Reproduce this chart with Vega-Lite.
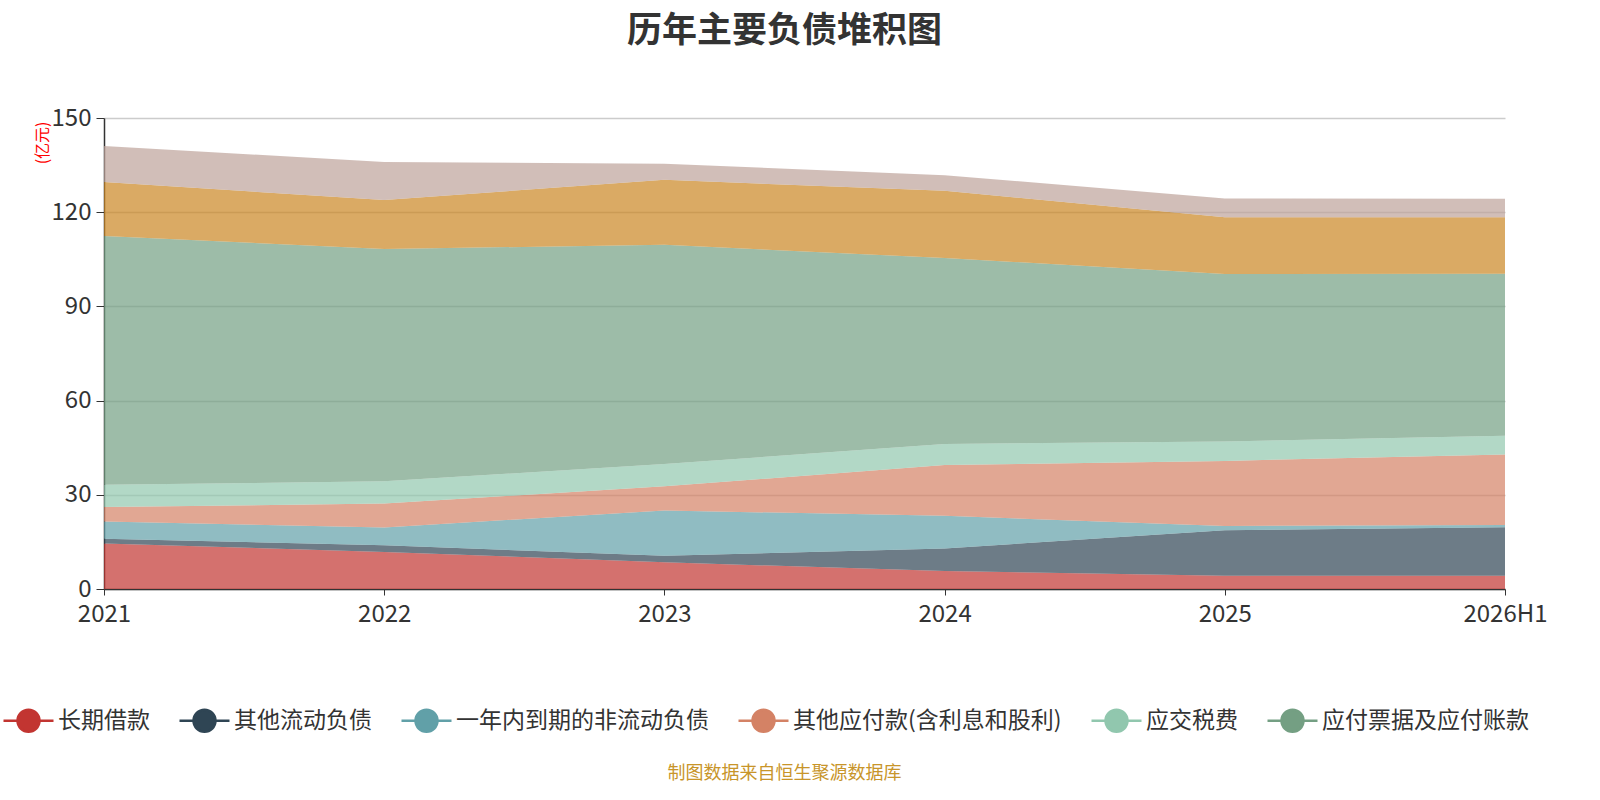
{
  "$schema": "https://vega.github.io/schema/vega-lite/v6.json",
  "width": 1401,
  "height": 471,
  "autosize": "none",
  "padding": {"left": 104, "top": 118, "right": 95, "bottom": 211},
  "background": "white",
  "title": {
    "text": "历年主要负债堆积图",
    "fontSize": 35,
    "fontWeight": "bold",
    "color": "#333333",
    "anchor": "middle",
    "offset": 57,
    "dx": -20
  },
  "data": {
    "values": [
      {"year": "2021", "item": "长期借款", "k": 1, "v": 14.5},
      {"year": "2021", "item": "其他流动负债", "k": 2, "v": 1.5},
      {"year": "2021", "item": "一年内到期的非流动负债", "k": 3, "v": 5.5},
      {"year": "2021", "item": "其他应付款(含利息和股利)", "k": 4, "v": 4.6},
      {"year": "2021", "item": "应交税费", "k": 5, "v": 7.1},
      {"year": "2021", "item": "应付票据及应付账款", "k": 6, "v": 79.2},
      {"year": "2021", "item": "合同负债", "k": 7, "v": 17.2},
      {"year": "2021", "item": "应付职工薪酬", "k": 8, "v": 11.5},
      {"year": "2022", "item": "长期借款", "k": 1, "v": 11.8},
      {"year": "2022", "item": "其他流动负债", "k": 2, "v": 2.1},
      {"year": "2022", "item": "一年内到期的非流动负债", "k": 3, "v": 5.7},
      {"year": "2022", "item": "其他应付款(含利息和股利)", "k": 4, "v": 7.6},
      {"year": "2022", "item": "应交税费", "k": 5, "v": 7.1},
      {"year": "2022", "item": "应付票据及应付账款", "k": 6, "v": 74.0},
      {"year": "2022", "item": "合同负债", "k": 7, "v": 15.6},
      {"year": "2022", "item": "应付职工薪酬", "k": 8, "v": 12.1},
      {"year": "2023", "item": "长期借款", "k": 1, "v": 8.5},
      {"year": "2023", "item": "其他流动负债", "k": 2, "v": 2.1},
      {"year": "2023", "item": "一年内到期的非流动负债", "k": 3, "v": 14.4},
      {"year": "2023", "item": "其他应付款(含利息和股利)", "k": 4, "v": 7.7},
      {"year": "2023", "item": "应交税费", "k": 5, "v": 7.1},
      {"year": "2023", "item": "应付票据及应付账款", "k": 6, "v": 69.8},
      {"year": "2023", "item": "合同负债", "k": 7, "v": 20.7},
      {"year": "2023", "item": "应付职工薪酬", "k": 8, "v": 5.1},
      {"year": "2024", "item": "长期借款", "k": 1, "v": 5.7},
      {"year": "2024", "item": "其他流动负债", "k": 2, "v": 7.2},
      {"year": "2024", "item": "一年内到期的非流动负债", "k": 3, "v": 10.4},
      {"year": "2024", "item": "其他应付款(含利息和股利)", "k": 4, "v": 16.2},
      {"year": "2024", "item": "应交税费", "k": 5, "v": 6.7},
      {"year": "2024", "item": "应付票据及应付账款", "k": 6, "v": 59.2},
      {"year": "2024", "item": "合同负债", "k": 7, "v": 21.4},
      {"year": "2024", "item": "应付职工薪酬", "k": 8, "v": 5.0},
      {"year": "2025", "item": "长期借款", "k": 1, "v": 4.2},
      {"year": "2025", "item": "其他流动负债", "k": 2, "v": 14.5},
      {"year": "2025", "item": "一年内到期的非流动负债", "k": 3, "v": 1.4},
      {"year": "2025", "item": "其他应付款(含利息和股利)", "k": 4, "v": 20.7},
      {"year": "2025", "item": "应交税费", "k": 5, "v": 6.2},
      {"year": "2025", "item": "应付票据及应付账款", "k": 6, "v": 53.3},
      {"year": "2025", "item": "合同负债", "k": 7, "v": 18.1},
      {"year": "2025", "item": "应付职工薪酬", "k": 8, "v": 6.0},
      {"year": "2026H1", "item": "长期借款", "k": 1, "v": 4.2},
      {"year": "2026H1", "item": "其他流动负债", "k": 2, "v": 15.5},
      {"year": "2026H1", "item": "一年内到期的非流动负债", "k": 3, "v": 0.7},
      {"year": "2026H1", "item": "其他应付款(含利息和股利)", "k": 4, "v": 22.4},
      {"year": "2026H1", "item": "应交税费", "k": 5, "v": 6.0},
      {"year": "2026H1", "item": "应付票据及应付账款", "k": 6, "v": 51.6},
      {"year": "2026H1", "item": "合同负债", "k": 7, "v": 18.0},
      {"year": "2026H1", "item": "应付职工薪酬", "k": 8, "v": 5.9}
    ]
  },
  "mark": {"type": "area", "opacity": 0.7, "interpolate": "linear", "tooltip": true},
  "encoding": {
    "x": {
      "field": "year",
      "type": "ordinal",
      "sort": null,
      "scale": {"type": "point", "padding": 0},
      "axis": {
        "title": "制图数据来自恒生聚源数据库",
        "titleColor": "#c8952a",
        "titleFontSize": 18,
        "titleFontWeight": "normal",
        "titleX": 680,
        "titleY": 184,
        "titleAlign": "center",
        "titleBaseline": "middle",
        "labelAngle": 0,
        "labelFontSize": 24,
        "labelColor": "#333333",
        "labelPadding": 7,
        "tickSize": 6,
        "tickColor": "#333333",
        "domainColor": "#333333",
        "domainWidth": 1.5,
        "grid": false
      }
    },
    "y": {
      "field": "v",
      "type": "quantitative",
      "stack": "zero",
      "scale": {"domain": [0, 150], "nice": false},
      "axis": {
        "values": [0, 30, 60, 90, 120, 150],
        "title": "(亿元)",
        "titleColor": "#ff0000",
        "titleFontSize": 16,
        "titleFontWeight": "normal",
        "titleAngle": 270,
        "titleX": -62,
        "titleY": 3,
        "titleAlign": "right",
        "titleBaseline": "middle",
        "labelFontSize": 24,
        "labelColor": "#333333",
        "labelPadding": 5,
        "tickSize": 8,
        "tickColor": "#333333",
        "domainColor": "#333333",
        "domainWidth": 1.5,
        "gridColor": "#cccccc",
        "gridWidth": 1.5
      }
    },
    "color": {
      "field": "item",
      "type": "nominal",
      "scale": {
        "domain": ["长期借款", "其他流动负债", "一年内到期的非流动负债", "其他应付款(含利息和股利)", "应交税费", "应付票据及应付账款", "合同负债", "应付职工薪酬"],
        "range": ["#c23531", "#2f4554", "#61a0a8", "#d48265", "#91c7ae", "#749f83", "#ca8622", "#bda29a"]
      },
      "legend": {
        "orient": "none",
        "direction": "horizontal",
        "columns": 6,
        "legendX": -102,
        "legendY": 576,
        "title": null,
        "values": ["长期借款", "其他流动负债", "一年内到期的非流动负债", "其他应付款(含利息和股利)", "应交税费", "应付票据及应付账款"],
        "symbolType": "M-1,0L-0.44,0M0.44,0L1,0M-0.44,0A0.44,0.44,0,1,1,0.44,0A0.44,0.44,0,1,1,-0.44,0Z",
        "symbolSize": 2500,
        "symbolStrokeWidth": 2.5,
        "symbolOpacity": 1,
        "labelFontSize": 23,
        "labelColor": "#333333",
        "labelOffset": 3,
        "columnPadding": 24,
        "labelLimit": 400,
        "encode": {
          "symbols": {
            "update": {
              "stroke": {"scale": "color", "field": "value"},
              "fill": {"scale": "color", "field": "value"},
              "opacity": {"value": 1},
              "fillOpacity": {"value": 1}
            }
          }
        }
      }
    },
    "order": {"field": "k", "type": "quantitative"},
    "tooltip": [
      {"field": "year", "type": "ordinal", "title": "年份"},
      {"field": "item", "type": "nominal", "title": "项目"},
      {"field": "v", "type": "quantitative", "title": "亿元"}
    ]
  },
  "config": {
    "font": "Noto Sans CJK SC",
    "view": {"stroke": null}
  }
}
